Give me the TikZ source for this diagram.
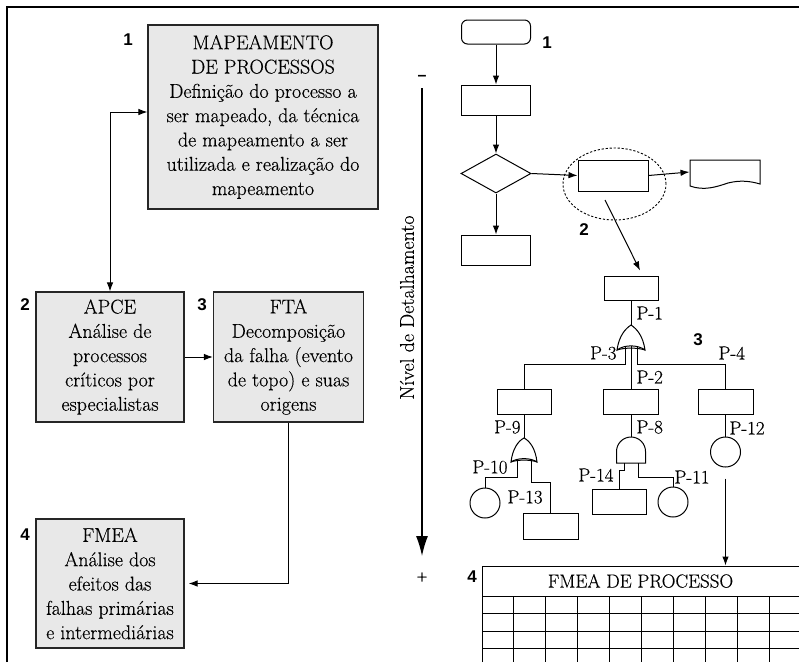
\documentclass[tikz,border=0pt]{standalone}
\usepackage{fontspec}
\setmainfont{Latin Modern Roman}[FakeBold=0.35]
\newfontfamily\numfont{Liberation Sans}
\usetikzlibrary{arrows.meta,shapes.geometric}
\begin{document}
\begin{tikzpicture}[x=1pt,y=-1pt,
  line width=1pt,
  txt/.style={font=\fontsize{20}{24.3}\selectfont},
  gbox/.style={draw=black!85, fill=black!9, line width=1.1pt, inner sep=0pt, align=center, txt},
  num/.style={font=\numfont\bfseries\fontsize{17}{17}\selectfont, inner sep=0pt},
  arr/.style={-{Latex[length=9pt,width=6.5pt]}},
  dblarr/.style={{Latex[length=9pt,width=6.5pt]}-{Latex[length=9pt,width=6.5pt]}},
  box/.style={draw, inner sep=0pt, line width=1pt},
  plab/.style={font=\fontsize{19}{19}\selectfont, inner sep=0pt},
]
\useasboundingbox (0,0) rectangle (799,662);

% frame
\coordinate (fa) at (7,662);
\coordinate (fb) at (7,7);
\coordinate (fc) at (799,7);
\draw[line width=1.2pt] (fa) -- (fb) -- (fc);

% left column boxes
\node[gbox, minimum width=230, minimum height=184] (b1) at (263,117) {MAPEAMENTO\\DE PROCESSOS\\Definição do processo a\\ser mapeado, da técnica\\de mapeamento a ser\\utilizada e realização do\\mapeamento};
\node[gbox, minimum width=148, minimum height=130] (b2) at (110,357) {APCE\\Análise de\\processos\\críticos por\\especialistas};
\node[gbox, minimum width=150, minimum height=130] (b3) at (288.5,357) {FTA\\Decomposição\\da falha (evento\\de topo) e suas\\origens};
\node[gbox, minimum width=148, minimum height=129] (b4) at (110,583.5) {FMEA\\Análise dos\\efeitos das\\falhas primárias\\e intermediárias};

\node[num] (n1) at (128,40) {1};
\node[num] (n2) at (25,305) {2};
\node[num] (n3) at (202,305) {3};
\node[num] (n4) at (25,535) {4};

\draw[dblarr] ([yshift=5pt]b1.west) -| (b2.north);
\draw[arr] (b2) -- (b3);
\draw[arr, shorten >=4pt] (b3.south) |- (b4.east);

% axis
\coordinate (ax1) at (422,88);
\coordinate (ax2) at (422,556);
\draw[-{Latex[length=20pt,width=12pt]}, line width=1.3pt] (ax1) -- (ax2);
\node[font=\numfont\bfseries\fontsize{16}{16}\selectfont, inner sep=0pt] (mn) at (422,78) {–};
\node[font=\fontsize{15}{15}\selectfont, inner sep=0pt] (pl) at (422,577) {+};
\node[txt, rotate=90, anchor=east, inner sep=0pt] (lbl) at (407,215) {Nível de Detalhamento};

% flowchart
\node[box, rounded corners=6pt, minimum width=69, minimum height=24] (t1) at (496,32) {};
\node[box, minimum width=69, minimum height=30] (f1) at (496,100) {};
\node[box, diamond, minimum width=70, minimum height=39] (f2) at (496,173.5) {};
\node[box, minimum width=70, minimum height=31] (f3) at (613,175.5) {};
\node[inner sep=0pt, minimum width=70, minimum height=24] (doc) at (725,172) {};
\draw (690,160) -- (760,160) -- (760,184) .. controls (750,181) and (740,180) .. (728,183) .. controls (716,187) and (704,191) .. (690,186) -- cycle;
\node[box, minimum width=69, minimum height=30] (f4) at (496,250) {};
\node[draw, ellipse, dash pattern=on 2.2pt off 1.8pt, line width=0.9pt, minimum width=103, minimum height=72, inner sep=0pt] (ell) at (614.5,184) {};

\node[num] (r1n) at (547,43) {1};
\node[num] (r2n) at (584,230) {2};
\node[num] (r3n) at (698,340) {3};
\node[num] (r4n) at (472,577) {4};

\draw[arr] (t1.south) -- (f1.north);
\draw[arr] (f1.south) -- (f2.north);
\draw[arr] (f2.east) -- (f3.west);
\draw[arr] (f3.east) -- (doc.west);
\draw[arr] (f2.south) -- (f4.north);

% fault tree
\node[box, minimum width=54, minimum height=24] (ft0) at (631,288) {};
\coordinate (e1) at (605,200);
\draw[arr] (e1) -- ([xshift=9pt,yshift=5pt]ft0.north);

% OR gate 1
\coordinate (g1t) at (631,325);
\draw (ft0.south) -- (g1t);
\draw (617,350) .. controls (619,336) and (625,329) .. (g1t) .. controls (637,329) and (643,336) .. (645,350) .. controls (638,344.5) and (624,344.5) .. cycle;
\draw (617,350) .. controls (624,347.5) and (638,347.5) .. (645,350);
\node[box, minimum width=54, minimum height=25] (fL) at (524,401.5) {};
\node[box, minimum width=55, minimum height=25] (fC) at (631,401.5) {};
\node[box, minimum width=55, minimum height=25] (fR) at (725.5,401.5) {};
\coordinate (g1a) at (625,347);
\coordinate (g1b) at (631,346);
\coordinate (g1c) at (637,347);
\draw (g1a) -- (625,364) -| (fL.north);
\draw (g1b) -- (fC.north);
\draw (g1c) -- (637,364) -| (fR.north);

% OR gate 2
\coordinate (g2t) at (524,438);
\draw (fL.south) -- (g2t);
\draw (511,462) .. controls (512.5,449) and (518,441) .. (g2t) .. controls (530,441) and (535.5,449) .. (537,462) .. controls (531,457.5) and (517,457.5) .. cycle;
\draw (511,462) .. controls (517,459.5) and (531,459.5) .. (537,462);
\node[box, circle, minimum size=30] (cL) at (485,503) {};
\node[box, minimum width=55, minimum height=26] (f13) at (550.5,526) {};
\coordinate (g2a) at (517,459.5);
\coordinate (g2b) at (531,459.5);
\draw (g2a) -- (517,477) -| (cL.north);
\draw (g2b) -- (531,482) -| (f13.north);

% AND gate 3
\coordinate (g3t) at (631,437);
\draw (fC.south) -- (g3t);
\draw (616.5,463) -- (616.5,451.5) arc[start angle=180, end angle=360, radius=14.5] -- (645.5,463) -- cycle;
\node[box, minimum width=54, minimum height=25] (f14) at (619,501.5) {};
\node[box, circle, minimum size=30] (cR) at (673,502) {};
\coordinate (g3a) at (624,463);
\coordinate (g3b) at (638,463);
\draw (g3a) -- (624,470) -| (f14.north);
\draw (g3b) -- (638,477) -| (cR.north);

% circle P-12
\node[box, circle, minimum size=30] (c12) at (725.5,452) {};
\draw (fR.south) -- (c12.north);

% labels
\node[plab, anchor=west] (p1) at (636,313) {P-1};
\node[plab, anchor=east] (p3) at (617,353) {P-3};
\node[plab, anchor=west] (p2) at (636,377) {P-2};
\node[plab, anchor=west] (p4) at (718,353) {P-4};
\node[plab, anchor=east] (p9) at (521,427) {P-9};
\node[plab, anchor=west] (p8) at (636,427) {P-8};
\node[plab, anchor=west] (p12) at (729,428) {P-12};
\node[plab, anchor=east] (p10) at (508,467) {P-10};
\node[plab, anchor=west] (p13) at (507,497) {P-13};
\node[plab, anchor=east] (p14) at (614,475) {P-14};
\node[plab, anchor=west] (p11) at (674,477) {P-11};

% FMEA table
\node[inner sep=0pt, minimum width=317, minimum height=30, font=\fontsize{19}{19}\selectfont] (tab) at (640.5,581) {FMEA DE PROCESSO};
\draw[arr, shorten <=11pt] (c12.south) -- (c12.south |- tab.north);
\draw (482,662) -- (482,566) -- (799,566);
\foreach \yy in {596,613,631,648} \draw (482,\yy) -- (799,\yy);
\foreach \xx in {513.5,545,577,609,641,673,705,737,769} \draw (\xx,596) -- (\xx,662);
\end{tikzpicture}
\end{document}
